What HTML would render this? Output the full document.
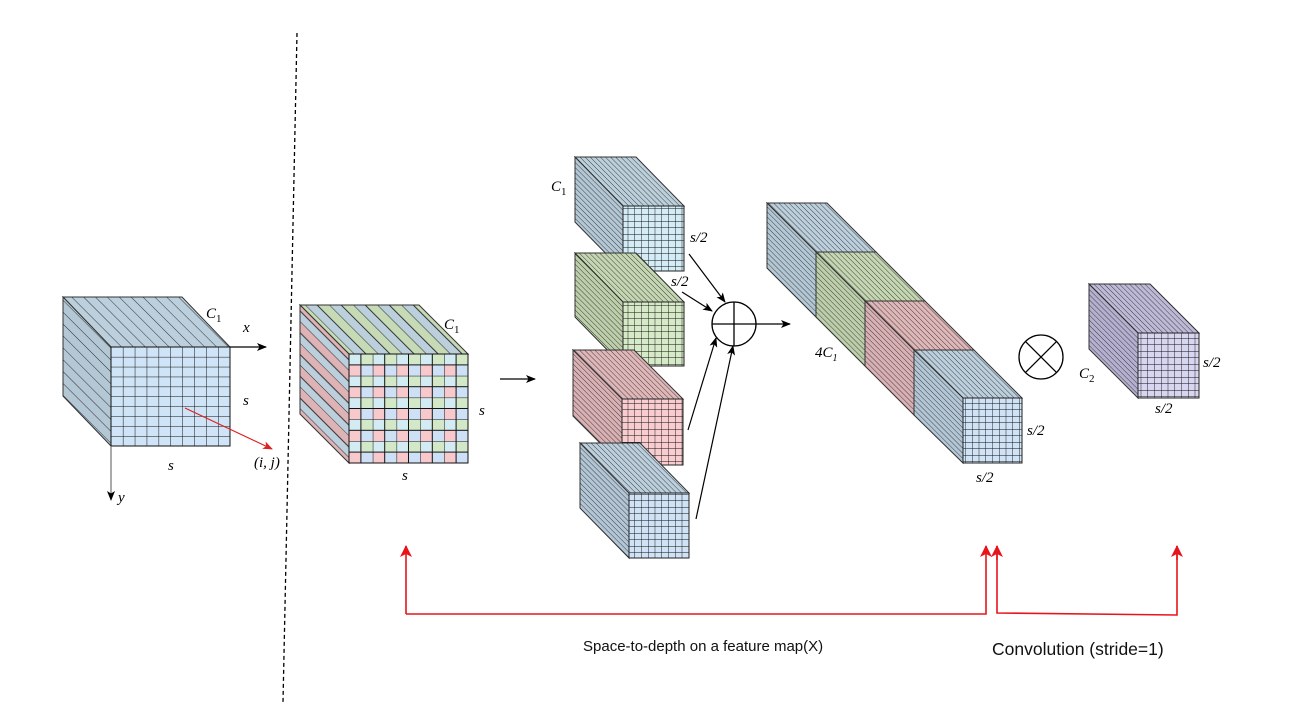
<!DOCTYPE html>
<html><head><meta charset="utf-8"><style>
html,body{margin:0;padding:0;background:#fff;}
svg{display:block;}
.m{font-family:"Liberation Serif",serif;font-style:italic;font-size:15px;fill:#000;}
.t{font-family:"Liberation Sans",sans-serif;fill:#111;}
</style></head><body>
<svg width="1314" height="705" viewBox="0 0 1314 705" xmlns="http://www.w3.org/2000/svg">
<defs>
<pattern id="sb" width="8.4" height="20" patternUnits="userSpaceOnUse" patternTransform="rotate(-45)"><line x1="0" y1="0" x2="0" y2="20" stroke="#222" stroke-width="0.9"/></pattern>
<pattern id="ss" width="3.6" height="20" patternUnits="userSpaceOnUse" patternTransform="rotate(-45)"><line x1="0" y1="0" x2="0" y2="20" stroke="#222" stroke-width="0.8"/></pattern>
<pattern id="sgA" width="17" height="20" patternUnits="userSpaceOnUse" patternTransform="rotate(-45)"><rect x="0" y="0" width="8.5" height="20" fill="#bccfdc"/><rect x="8.5" y="0" width="8.5" height="20" fill="#c6dab6"/><line x1="0" y1="0" x2="0" y2="20" stroke="#222" stroke-width="0.9"/><line x1="8.5" y1="0" x2="8.5" y2="20" stroke="#222" stroke-width="0.9"/></pattern>
<pattern id="srA" width="15.4" height="20" patternUnits="userSpaceOnUse" patternTransform="rotate(-45)"><rect x="0" y="0" width="7.7" height="20" fill="#bccfdc"/><rect x="7.7" y="0" width="7.7" height="20" fill="#ddb3b6"/><line x1="0" y1="0" x2="0" y2="20" stroke="#222" stroke-width="0.9"/><line x1="7.7" y1="0" x2="7.7" y2="20" stroke="#222" stroke-width="0.9"/></pattern>
<pattern id="g1" x="111" y="347" width="11.9" height="9.9" patternUnits="userSpaceOnUse"><path d="M0 0H11.9M0 0V9.9" stroke="#111" stroke-width="1" fill="none"/></pattern>
<pattern id="chk" x="349" y="354" width="23.8" height="21.8" patternUnits="userSpaceOnUse">
<rect x="0" y="0" width="11.9" height="10.9" fill="#d3ecf4"/><rect x="11.9" y="0" width="11.9" height="10.9" fill="#d3e8c6"/>
<rect x="0" y="10.9" width="11.9" height="10.9" fill="#f7c9cd"/><rect x="11.9" y="10.9" width="11.9" height="10.9" fill="#cde0f6"/>
<path d="M0 0H23.8M0 10.9H23.8M0 0V21.8M11.9 0V21.8" stroke="#111" stroke-width="1" fill="none"/></pattern>
<pattern id="gs" width="6.75" height="6.5" patternUnits="userSpaceOnUse"><path d="M0 0H6.75M0 0V6.5" stroke="#111" stroke-width="0.9" fill="none"/></pattern>
<marker id="ah" markerWidth="10" markerHeight="8" refX="9" refY="4" orient="auto" markerUnits="userSpaceOnUse"><path d="M0 0L10 4L0 8L2.5 4Z" fill="#000"/></marker>
<marker id="ahr" markerWidth="10" markerHeight="8" refX="9" refY="4" orient="auto" markerUnits="userSpaceOnUse"><path d="M0 0L10 4L0 8L2.5 4Z" fill="#d22"/></marker>
<marker id="ahR" markerWidth="12" markerHeight="12" refX="11" refY="6" orient="auto" markerUnits="userSpaceOnUse"><path d="M0 0L12 6L0 12L3 6Z" fill="#e8141c"/></marker>
</defs>

<!-- dashed divider -->
<line x1="297" y1="33" x2="283" y2="702" stroke="#000" stroke-width="1.3" stroke-dasharray="4,3"/>

<!-- Cube 1 -->
<g stroke="#333" stroke-width="1">
<polygon points="63,297 182,297 230,347 111,347" fill="#bccfdc"/>
<polygon points="63,297 111,347 111,446 63,396" fill="#b3c7d5"/>
</g>
<polygon points="63,297 182,297 230,347 111,347" fill="url(#sb)"/>
<polygon points="63,297 111,347 111,446 63,396" fill="url(#sb)"/>
<rect x="111" y="347" width="119" height="99" fill="#cfe4f6"/>
<rect x="111" y="347" width="119" height="99" fill="url(#g1)" stroke="#111" stroke-width="1"/>
<line x1="230" y1="347" x2="266" y2="347" stroke="#000" stroke-width="1.2" marker-end="url(#ah)"/>
<line x1="111" y1="446" x2="111" y2="500" stroke="#555" stroke-width="1" marker-end="url(#ah)"/>
<line x1="185" y1="408" x2="272" y2="449" stroke="#d22" stroke-width="1.2" marker-end="url(#ahr)"/>
<text class="m" x="206" y="318" font-size="16">C<tspan font-size="11" dy="4" font-style="normal">1</tspan></text>
<text class="m" x="243" y="332">x</text>
<text class="m" x="243" y="405">s</text>
<text class="m" x="168" y="470">s</text>
<text class="m" x="254" y="467" font-size="11">(i, j)</text>
<text class="m" x="118" y="502">y</text>

<!-- Cube 2 -->
<polygon points="300,305 419,305 468,354 349,354" fill="url(#sgA)" stroke="#333"/>
<polygon points="300,305 349,354 349,463 300,414" fill="url(#srA)" stroke="#333"/>
<rect x="349" y="354" width="119" height="109" fill="url(#chk)" stroke="#111" stroke-width="1"/>
<text class="m" x="444" y="329" font-size="16">C<tspan font-size="11" dy="4" font-style="normal">1</tspan></text>
<text class="m" x="479" y="415">s</text>
<text class="m" x="402" y="480">s</text>
<line x1="500" y1="379" x2="535" y2="379" stroke="#000" stroke-width="1.2" marker-end="url(#ah)"/>

<!-- small cubes -->
<g id="cA">
<polygon points="575,157 636,157 684,206 623,206" fill="#bcd0dc" stroke="#333"/>
<polygon points="575,157 623,206 623,271 575,222" fill="#b3c7d5" stroke="#333"/>
<polygon points="575,157 636,157 684,206 623,206" fill="url(#ss)"/>
<polygon points="575,157 623,206 623,271 575,222" fill="url(#ss)"/>
<rect x="623" y="206" width="61" height="65" fill="#d3ecf6"/>
<rect x="623" y="206" width="61" height="65" fill="url(#gs)" stroke="#222"/>
</g>
<g>
<polygon points="575,253 636,253 684,302 623,302" fill="#c4d6b2" stroke="#333"/>
<polygon points="575,253 623,302 623,366 575,317" fill="#bcceaa" stroke="#333"/>
<polygon points="575,253 636,253 684,302 623,302" fill="url(#ss)"/>
<polygon points="575,253 623,302 623,366 575,317" fill="url(#ss)"/>
<rect x="623" y="302" width="61" height="64" fill="#d6eac7"/>
<rect x="623" y="302" width="61" height="64" fill="url(#gs)" stroke="#222"/>
</g>
<g>
<polygon points="573,350 634,350 683,399 622,399" fill="#e0b7b9" stroke="#333"/>
<polygon points="573,350 622,399 622,465 573,416" fill="#d9b0b3" stroke="#333"/>
<polygon points="573,350 634,350 683,399 622,399" fill="url(#ss)"/>
<polygon points="573,350 622,399 622,465 573,416" fill="url(#ss)"/>
<rect x="622" y="399" width="61" height="66" fill="#f9cdd0"/>
<rect x="622" y="399" width="61" height="66" fill="url(#gs)" stroke="#222"/>
</g>
<g>
<polygon points="580,443 640,443 689,493 629,493" fill="#bccfdd" stroke="#333"/>
<polygon points="580,443 629,493 629,558 580,508" fill="#b3c6d6" stroke="#333"/>
<polygon points="580,443 640,443 689,493 629,493" fill="url(#ss)"/>
<polygon points="580,443 629,493 629,558 580,508" fill="url(#ss)"/>
<rect x="629" y="493" width="60" height="65" fill="#cfe2f6"/>
<rect x="629" y="493" width="60" height="65" fill="url(#gs)" stroke="#222"/>
</g>
<text class="m" x="551" y="191" font-size="16">C<tspan font-size="11" dy="4" font-style="normal">1</tspan></text>
<text class="m" x="690" y="242">s/2</text>
<text class="m" x="671" y="286">s/2</text>

<!-- oplus -->
<circle cx="734" cy="324" r="22" fill="#fff" stroke="#000" stroke-width="1.3"/>
<path d="M712 324H756M734 302V346" stroke="#000" stroke-width="1.3"/>
<g stroke="#000" stroke-width="1.2" fill="none">
<line x1="689" y1="254" x2="725" y2="302" marker-end="url(#ah)"/>
<line x1="682" y1="292" x2="712" y2="311" marker-end="url(#ah)"/>
<line x1="688" y1="430" x2="716" y2="338" marker-end="url(#ah)"/>
<line x1="696" y1="519" x2="733" y2="346" marker-end="url(#ah)"/>
<line x1="756" y1="324" x2="790" y2="324" marker-end="url(#ah)"/>
</g>

<!-- long 4C1 block -->
<g stroke="#333" stroke-width="1">
<polygon points="767,203 827,203 876,252 816,252" fill="#bccfdc"/>
<polygon points="767,203 816,252 816,317 767,268" fill="#b3c7d5"/>
<polygon points="816,252 876,252 925,301 865,301" fill="#c4d6b2"/>
<polygon points="816,252 865,301 865,366 816,317" fill="#bcceaa"/>
<polygon points="865,301 925,301 974,350 914,350" fill="#e0b7b9"/>
<polygon points="865,301 914,350 914,415 865,366" fill="#d9b0b3"/>
<polygon points="914,350 974,350 1022,398 963,398" fill="#bccfdd"/>
<polygon points="914,350 963,398 963,463 914,415" fill="#b3c6d6"/>
</g>
<polygon points="767,203 827,203 1022,398 963,398" fill="url(#ss)"/>
<polygon points="767,203 963,398 963,463 767,268" fill="url(#ss)"/>
<g stroke="#333" stroke-width="1" fill="none">
<line x1="816" y1="252" x2="816" y2="317"/><line x1="816" y1="252" x2="876" y2="252"/>
<line x1="865" y1="301" x2="865" y2="366"/><line x1="865" y1="301" x2="925" y2="301"/>
<line x1="914" y1="350" x2="914" y2="415"/><line x1="914" y1="350" x2="974" y2="350"/>
</g>
<rect x="963" y="398" width="59" height="65" fill="#cfe2f6"/>
<rect x="963" y="398" width="59" height="65" fill="url(#gs)" stroke="#222"/>
<text class="m" x="815" y="357" font-size="15" font-style="normal">4<tspan font-style="italic">C</tspan><tspan font-size="10" dy="4">1</tspan></text>
<text class="m" x="1027" y="435">s/2</text>
<text class="m" x="976" y="482">s/2</text>

<!-- otimes -->
<circle cx="1041" cy="357" r="22" fill="#fff" stroke="#000" stroke-width="1.3"/>
<path d="M1025.4 341.4L1056.6 372.6M1056.6 341.4L1025.4 372.6" stroke="#000" stroke-width="1.3"/>

<!-- purple cube -->
<polygon points="1089,284 1150,284 1199,333 1138,333" fill="#bdb9d6" stroke="#333"/>
<polygon points="1089,284 1138,333 1138,398 1089,349" fill="#b4b0cf" stroke="#333"/>
<polygon points="1089,284 1150,284 1199,333 1138,333" fill="url(#ss)"/>
<polygon points="1089,284 1138,333 1138,398 1089,349" fill="url(#ss)"/>
<rect x="1138" y="333" width="61" height="65" fill="#d8d5f0"/>
<rect x="1138" y="333" width="61" height="65" fill="url(#gs)" stroke="#222"/>
<text class="m" x="1079" y="378" font-size="16">C<tspan font-size="11" dy="4" font-style="normal">2</tspan></text>
<text class="m" x="1203" y="367">s/2</text>
<text class="m" x="1155" y="413">s/2</text>

<!-- red connectors -->
<g stroke="#e8141c" stroke-width="1.6" fill="none">
<polyline points="406,614 986,614 986,546" marker-end="url(#ahR)"/>
<line x1="406" y1="614" x2="406" y2="546" marker-end="url(#ahR)"/>
<polyline points="997,546 997,613 1177,615 1177,546" />
<line x1="997" y1="560" x2="997" y2="546" marker-end="url(#ahR)"/>
<line x1="1177" y1="560" x2="1177" y2="546" marker-end="url(#ahR)"/>
</g>
<text class="t" x="583" y="651" font-size="15">Space-to-depth on a feature map(X)</text>
<text class="t" x="992" y="655" font-size="17.5">Convolution (stride=1)</text>
</svg>
</body></html>
